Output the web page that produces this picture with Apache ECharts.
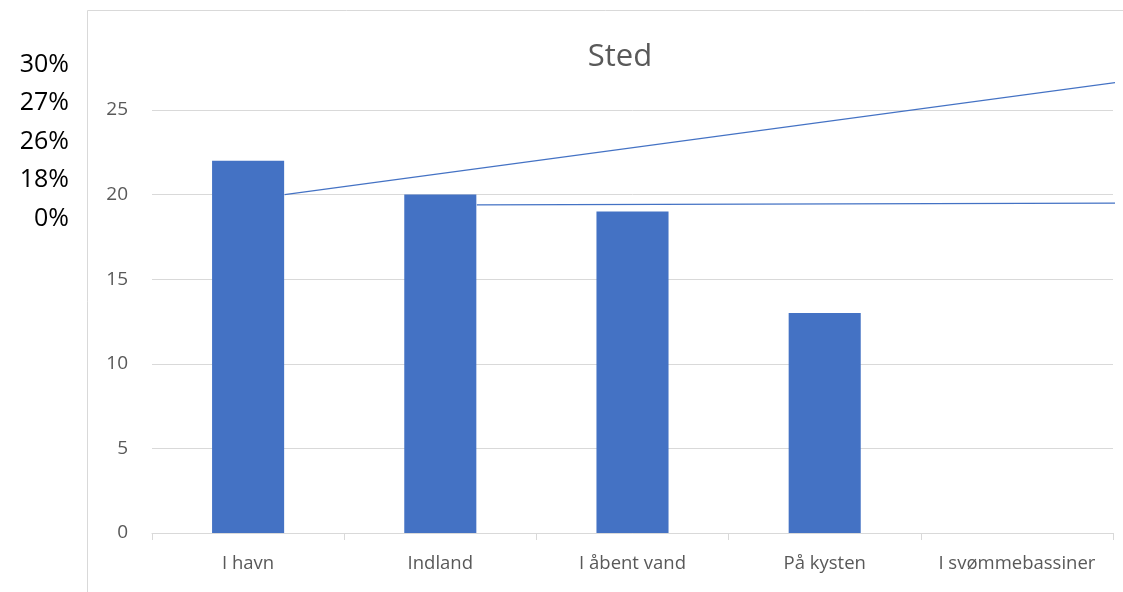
<!DOCTYPE html>
<html>
<head>
<meta charset="utf-8">
<script src="https://cdn.jsdelivr.net/npm/echarts@6/dist/echarts.min.js"></script>
<style>
  html, body { margin: 0; padding: 0; background: #fff; overflow: hidden; }
  #chart { width: 1123px; height: 592px; }
</style>
</head>
<body>
<div id="chart"></div>
<script>
const categories = ['I havn', 'Indland', 'I åbent vand', 'På kysten', 'I svømmebassiner']
const counts = [22, 20, 19, 13, 0]
const percentLabels = ['30%', '27%', '26%', '18%', '0%']
// the two stray lines, [category position, value]
const lineA = [[0.69, 20], [5.1, 26.75]]
const lineB = [[1.69, 19.39], [5.1, 19.5]]

const blue = '#4472C4'
const grey = '#595959'
const font = '"Open Sans", "Noto Sans", sans-serif'

const chart = echarts.init(document.getElementById('chart'))

chart.setOption({
  animation: false,
  title: {
    text: 'Sted',
    left: 615,
    textAlign: 'center',
    top: 37,
    textStyle: { color: grey, fontSize: 31, fontWeight: 'normal', fontFamily: font },
  },
  grid: { left: 152, right: 10, top: 110, bottom: 59 },
  xAxis: [
    {
      type: 'category',
      data: categories,
      axisLine: { lineStyle: { color: '#d9d9d9' } },
      axisTick: { show: true, length: 7, lineStyle: { color: '#d9d9d9' } },
      axisLabel: { color: grey, fontSize: 18.5, fontFamily: font, margin: 21, interval: 0 },
    },
    { type: 'value', min: 0, max: 5, show: false },
  ],
  yAxis: {
    type: 'value',
    min: 0,
    max: 25,
    interval: 5,
    axisLine: { show: false },
    axisTick: { show: false },
    axisLabel: { color: grey, fontSize: 19, fontFamily: font, margin: 24 },
    splitLine: { lineStyle: { color: '#d9d9d9' } },
  },
  graphic: [
    {
      type: 'polyline',
      shape: { points: [[87.5, 600], [87.5, 10.5], [1130, 10.5]] },
      style: { fill: 'none', stroke: '#d9d9d9', lineWidth: 1 },
      silent: true,
    },
    ...percentLabels.map((t, i) => ({
      type: 'text',
      x: 69,
      y: 64.5 + i * 38.6,
      style: {
        text: t,
        align: 'right',
        verticalAlign: 'middle',
        fill: '#000',
        fontSize: 25,
        fontFamily: font,
      },
    })),
  ],
  series: [
    {
      type: 'bar',
      data: counts,
      barWidth: '37.5%',
      itemStyle: { color: blue },
    },
    {
      type: 'line',
      xAxisIndex: 1,
      data: lineA,
      clip: false,
      symbol: 'none',
      lineStyle: { color: blue, width: 1.2 },
      z: 5,
    },
    {
      type: 'line',
      xAxisIndex: 1,
      data: lineB,
      clip: false,
      symbol: 'none',
      lineStyle: { color: blue, width: 1.2 },
      z: 5,
    },
  ],
})
</script>
</body>
</html>
